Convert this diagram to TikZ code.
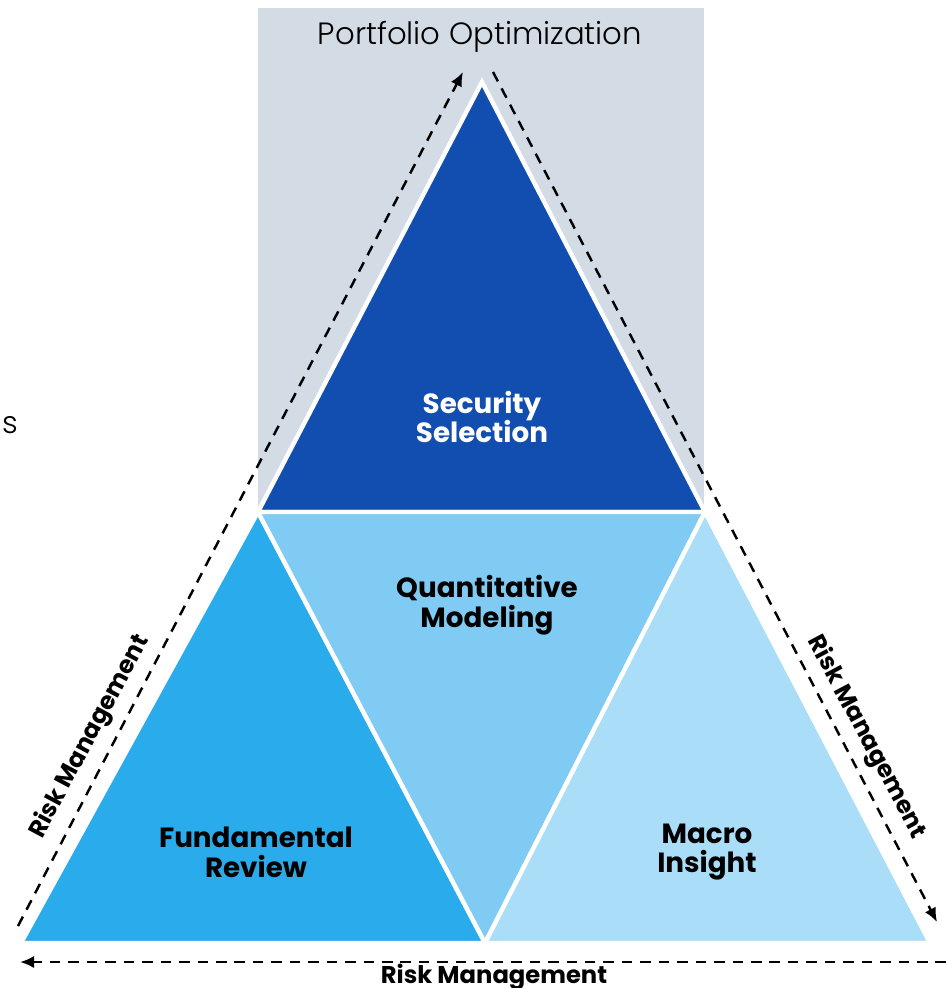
\documentclass[tikz,border=0pt]{standalone}
\usepackage{fontspec}
\setmainfont{Poppins}
\newfontfamily\thinfont{Poppins Light}
\usepackage{tikz}
\usetikzlibrary{arrows.meta}
\definecolor{panel}{HTML}{D3DBE4}
\definecolor{secblue}{HTML}{124EAF}
\definecolor{fundblue}{HTML}{29ABEC}
\definecolor{quantblue}{HTML}{7FCBF3}
\definecolor{macroblue}{HTML}{A9DDF8}
\tikzstyle{piece} = [draw=white, line width=2.5pt, line join=miter]
\tikzstyle{label} = [font={\fontsize{15.8}{17}\selectfont\bfseries}, align=center]
\tikzstyle{risk} = [font={\fontsize{13.8}{15}\selectfont\bfseries}, inner sep=1pt]
\tikzstyle{flow} = [line width=1.4pt, dash pattern=on 6pt off 4.5pt, -{Latex[length=8pt,width=7pt]}]

\begin{document}
\begin{tikzpicture}[x=0.02cm,y=-0.02cm]
    \useasboundingbox (0,0) rectangle (946,988);
    \fill[panel] (258,8) rectangle (704,512);
    \node[font={\fontsize{17.5}{19}\thinfont}](title) at (480,37){Portfolio Optimization};
    \node[font={\fontsize{17.5}{19}\thinfont}, anchor=west](cut) at (-4,425){s};
    % corners of the pyramid
    \coordinate (apex) at (482,82);
    \coordinate (lm) at (258,512);
    \coordinate (rm) at (705,512);
    \coordinate (bl) at (21,943);
    \coordinate (bm) at (485,943);
    \coordinate (br) at (930,943);
    \filldraw[piece,fill=secblue] (apex)--(lm)--(rm)--cycle;
    \filldraw[piece,fill=fundblue] (lm)--(bl)--(bm)--cycle;
    \filldraw[piece,fill=quantblue] (lm)--(rm)--(bm)--cycle;
    \filldraw[piece,fill=macroblue] (rm)--(bm)--(br)--cycle;
    \node[label,text=white](sec) at (482,417){Security\\Selection};
    \node[label](quant) at (487,605){Quantitative\\Modeling};
    \node[label](fund) at (256,852){Fundamental\\Review};
    \node[label](macro) at (707,852){Macro\\Insight};
    % risk arrows
    \coordinate (l0) at (18,926);
    \coordinate (l1) at (463,72);
    \coordinate (r0) at (493,72);
    \coordinate (r1) at (937,922);
    \coordinate (b0) at (946,962);
    \coordinate (b1) at (20,962);
    \draw[flow](l0)--(l1);
    \draw[flow](r0)--(r1);
    \draw[flow](b0)--(b1);
    \node[risk,rotate=61.8](riskl) at (90,737){Risk Management};
    \node[risk,rotate=-62](riskr) at (866,737){Risk Management};
    \node[risk](riskb) at (494,977){Risk Management};
  \end{tikzpicture}
\end{document}
